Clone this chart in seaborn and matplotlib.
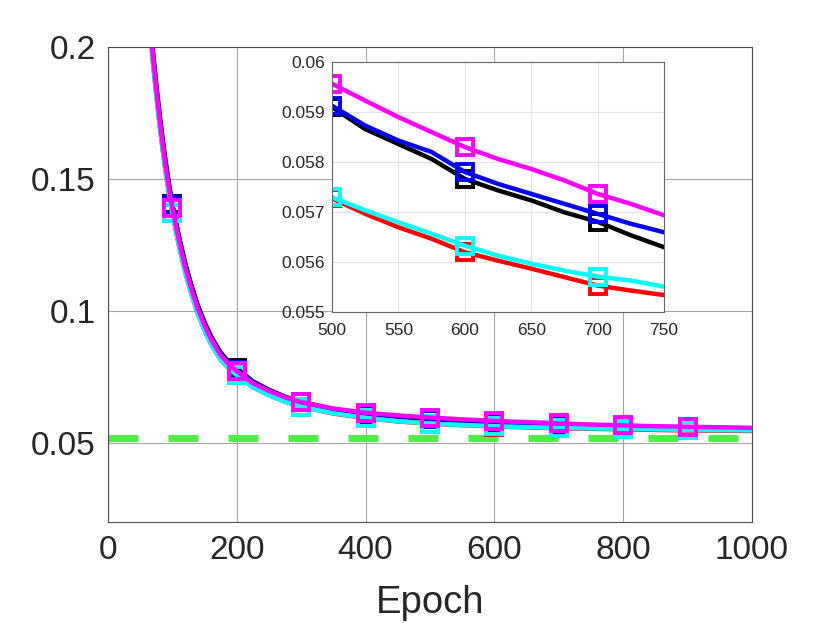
import matplotlib
matplotlib.use("Agg")
import matplotlib.pyplot as plt
import seaborn as sns
import pandas as pd

# values
epochs = [60, 65, 70, 75, 80, 85, 90, 95, 100, 110, 120, 130, 140, 150, 160, 175, 190, 200,
          225, 250, 275, 300, 350, 400, 450, 500, 525, 550, 575, 600, 625, 650, 675, 700,
          725, 750, 800, 850, 900, 950, 1000]

loss_black = [0.228, 0.212, 0.198, 0.186, 0.175, 0.165, 0.156, 0.1478, 0.1405, 0.1285, 0.1180,
              0.1094, 0.1018, 0.0957, 0.0904, 0.0842, 0.0801, 0.0782, 0.0733, 0.0701, 0.0675,
              0.0655, 0.0628, 0.0610, 0.0599, 0.05910, 0.05866, 0.05836, 0.05806, 0.05766,
              0.05743, 0.05723, 0.05699, 0.05680, 0.05653, 0.05629, 0.0559, 0.0556, 0.0553,
              0.0551, 0.0549]
loss_red = [0.224, 0.208, 0.194, 0.182, 0.171, 0.161, 0.152, 0.1440, 0.1370, 0.1250, 0.1146,
            0.1061, 0.0986, 0.0926, 0.0875, 0.0815, 0.0776, 0.0757, 0.0711, 0.0680, 0.0656,
            0.0637, 0.0611, 0.0594, 0.0581, 0.05727, 0.05696, 0.05669, 0.05646, 0.05619,
            0.05602, 0.05586, 0.05569, 0.05552, 0.05542, 0.05533, 0.0551, 0.0549, 0.0547,
            0.0546, 0.0545]
loss_blue = [0.227, 0.211, 0.197, 0.185, 0.174, 0.164, 0.155, 0.1470, 0.1400, 0.1280, 0.1175,
             0.1089, 0.1013, 0.0952, 0.0899, 0.0837, 0.0797, 0.0777, 0.0730, 0.0699, 0.0673,
             0.0653, 0.0628, 0.0611, 0.0600, 0.05913, 0.05873, 0.05843, 0.05820, 0.05780,
             0.05756, 0.05736, 0.05716, 0.05696, 0.05676, 0.05659, 0.0563, 0.0560, 0.0558,
             0.0556, 0.0554]
loss_cyan = [0.224, 0.208, 0.194, 0.182, 0.171, 0.161, 0.152, 0.1440, 0.1370, 0.1250, 0.1146,
             0.1061, 0.0986, 0.0926, 0.0875, 0.0815, 0.0776, 0.0757, 0.0711, 0.0680, 0.0656,
             0.0637, 0.0612, 0.0595, 0.0582, 0.05729, 0.05703, 0.05679, 0.05656, 0.05632,
             0.05612, 0.05596, 0.05582, 0.05570, 0.05562, 0.05550, 0.0553, 0.0551, 0.0549,
             0.0548, 0.0547]
loss_magenta = [0.226, 0.210, 0.196, 0.184, 0.173, 0.163, 0.154, 0.1460, 0.1390, 0.1270, 0.1165,
                0.1080, 0.1005, 0.0945, 0.0893, 0.0832, 0.0792, 0.0772, 0.0726, 0.0697, 0.0673,
                0.0654, 0.0630, 0.0614, 0.0604, 0.05957, 0.05923, 0.05890, 0.05860, 0.05830,
                0.05806, 0.05786, 0.05763, 0.05736, 0.05716, 0.05693, 0.0566, 0.0563, 0.0561,
                0.0559, 0.0557]

marker_epochs = [100, 200, 300, 400, 500, 600, 700, 800, 900]
baseline_x = [0, 1000]
baseline_y = [0.052, 0.052]

series = ["black", "red", "blue", "cyan", "magenta"]
colors = ["#000000", "#ff0000", "#0000ff", "#00ffff", "#ff00ff"]
values = [loss_black, loss_red, loss_blue, loss_cyan, loss_magenta]

xticks = [0, 200, 400, 600, 800, 1000]
yticks = [0.05, 0.1, 0.15, 0.2]
ytick_labels = ["0.05", "0.1", "0.15", "0.2"]
inset_xticks = [500, 550, 600, 650, 700, 750]
inset_yticks = [0.055, 0.056, 0.057, 0.058, 0.059, 0.06]
inset_ytick_labels = ["0.055", "0.056", "0.057", "0.058", "0.059", "0.06"]

df = pd.concat([pd.DataFrame({"epoch": epochs, "loss": v, "series": s})
                for s, v in zip(series, values)], ignore_index=True)
mark_idx = [epochs.index(e) for e in marker_epochs]

sns.set_style("white")
plt.rcParams["font.family"] = ["Liberation Sans", "DejaVu Sans"]


def draw_curves(ax):
    for s, c in zip(series, colors):
        sns.lineplot(data=df[df["series"] == s], x="epoch", y="loss", color=c,
                     lw=3.2, marker="s", markevery=mark_idx, ms=11.5, mew=2.8,
                     mfc="none", mec=c, estimator=None, legend=False, ax=ax)


def style_axes(ax, spine_col, grid_col, size):
    for sp in ax.spines.values():
        sp.set_color(spine_col)
        sp.set_linewidth(0.8)
    ax.grid(True, color=grid_col, lw=0.8)
    ax.set_axisbelow(True)
    ax.tick_params(direction="in", length=4, width=0.8, colors=spine_col,
                   labelcolor="#262626", labelsize=size)


fig = plt.figure(figsize=(8.3, 6.23), dpi=100)
ax = fig.add_axes([0.130, 0.162, 0.776, 0.763])

sns.lineplot(x=baseline_x, y=baseline_y, color="#4ded45", lw=5,
             linestyle=(0, (4.32, 4.32)), ax=ax)
draw_curves(ax)

ax.set_xlim(0, 1000)
ax.set_ylim(0.02, 0.2)
ax.set_xticks(xticks)
ax.set_yticks(yticks)
ax.set_yticklabels(ytick_labels)
style_axes(ax, "#4d4d4d", "#a6a6a6", 24)
ax.tick_params(axis="x", pad=9)
ax.tick_params(axis="y", pad=9)
ax.set_xlabel("Epoch", fontsize=27.5, color="#262626", labelpad=14)
ax.set_ylabel("")

axins = fig.add_axes([0.400, 0.500, 0.400, 0.400])
axins.set_facecolor("white")
draw_curves(axins)
axins.set_xlim(500, 750)
axins.set_ylim(0.055, 0.06)
axins.set_xticks(inset_xticks)
axins.set_yticks(inset_yticks)
axins.set_yticklabels(inset_ytick_labels)
style_axes(axins, "#666666", "#e3e3e3", 12.5)
axins.tick_params(axis="x", pad=8)
axins.tick_params(axis="y", pad=5)
axins.set_xlabel("")
axins.set_ylabel("")

fig.savefig("out.png", dpi=100)
